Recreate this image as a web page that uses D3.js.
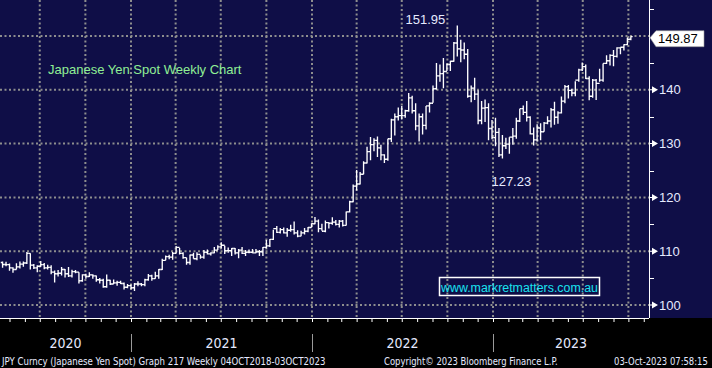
<!DOCTYPE html>
<html lang="en">

<head>
    <meta charset="UTF-8">
    <meta name="viewport" content="width=device-width, initial-scale=1.0">
    <title>Japanese Yen Spot Weekly Chart</title>
    <style>
        body { margin: 0; background: #000; }
        svg { display: block; }
        text { font-family: "Liberation Sans", Arial, sans-serif; }
        .narrow { font-family: "Liberation Sans Narrow", "DejaVu Sans Condensed", "Liberation Sans", sans-serif; font-stretch: condensed; }
    </style>
</head>

<body>
    <div id="workspace"></div>

    <script src="https://cdn.jsdelivr.net/npm/d3@7"></script>
    <script>
        // weekly bars, week ending Friday, first week ends 17 Apr 2020
        const firstWeek = "2020-04-17";
        const firstOpen = 107.9;
        const highs = [
            // 2020
            108.08, 108.05, 107.70, 107.00, 107.77, 108.09, 108.08, 109.85, 109.60, 107.60, 107.40, 108.16, 107.80,
            107.50, 107.40, 106.40, 106.50, 107.05, 106.70, 107.05, 106.55, 106.50, 106.10, 105.70, 105.80, 106.10,
            105.70, 105.50, 105.00, 104.90, 105.65, 104.70, 104.75, 104.50, 104.50, 104.20, 103.90,
            // 2021
            103.80, 104.10, 104.40, 104.10, 104.90, 105.76, 105.60, 106.20, 106.70, 108.60, 109.20, 109.36, 109.85,
            110.97, 110.60, 109.80, 108.80, 109.40, 109.70, 109.80, 109.30, 110.20, 110.33, 109.80, 110.80, 111.10,
            111.66, 111.00, 110.70, 110.60, 110.60, 110.40, 110.80, 110.20, 110.30, 110.40, 110.40, 110.20, 110.80,
            112.08, 112.25, 114.00, 114.70, 114.30, 114.40, 114.30, 114.90, 115.50, 113.90, 113.80, 114.30, 114.50,
            115.20,
            // 2022
            116.35, 115.90, 115.10, 115.70, 115.40, 116.30, 115.80, 115.80, 115.80, 117.40, 119.40, 122.40, 125.09,
            124.70, 126.70, 129.40, 131.25, 131.00, 131.30, 129.80, 128.00, 130.90, 134.60, 135.60, 136.70, 137.00,
            136.30, 139.40, 138.90, 137.50, 135.60, 135.60, 137.00, 137.70, 140.80, 144.99, 144.70, 145.90, 144.90,
            145.40, 148.90, 151.95, 149.30, 148.80, 147.60, 140.80, 142.25, 139.90, 137.90, 138.20, 137.50, 134.40,
            // 2023
            134.80, 132.90, 131.60, 131.10, 131.20, 132.90, 134.80, 136.50, 137.10, 137.90, 135.10, 133.00, 133.60,
            133.80, 134.00, 135.10, 136.60, 137.80, 136.00, 138.75, 140.90, 140.90, 140.20, 141.60, 143.90, 145.07,
            144.70, 142.50, 142.00, 142.00, 143.90, 144.90, 146.40, 146.60, 147.40, 147.90, 147.90, 148.45, 149.70,
            149.90
        ];
        const lows = [
            // 2020
            106.92, 107.20, 106.36, 106.00, 106.60, 106.80, 107.10, 107.60, 106.58, 106.70, 106.10, 107.10, 106.64,
            106.60, 105.70, 104.19, 105.30, 105.50, 105.10, 105.20, 105.10, 105.90, 104.00, 104.30, 104.90, 105.20,
            104.90, 104.30, 104.00, 103.20, 103.20, 103.70, 103.90, 103.60, 103.90, 102.88, 103.10,
            // 2021
            102.95, 102.59, 103.50, 103.50, 103.50, 104.50, 104.50, 104.90, 104.90, 106.50, 108.30, 108.50, 108.40,
            109.60, 109.40, 108.60, 107.50, 107.50, 108.60, 108.30, 108.60, 108.60, 109.40, 109.20, 109.60, 110.20,
            110.50, 109.50, 109.70, 109.10, 109.40, 108.70, 109.50, 109.10, 109.60, 109.60, 109.60, 109.10, 109.10,
            110.50, 110.80, 112.10, 113.40, 113.30, 113.30, 112.70, 113.60, 113.10, 112.60, 112.80, 113.10, 113.50,
            114.40,
            // 2022
            115.00, 113.50, 113.80, 113.50, 114.20, 114.90, 114.80, 114.40, 114.60, 114.80, 117.20, 119.10, 121.30,
            122.40, 124.30, 126.30, 126.90, 128.60, 127.50, 126.90, 126.40, 126.80, 130.30, 131.50, 134.30, 134.50,
            134.80, 135.90, 135.60, 132.50, 130.40, 131.70, 132.60, 135.80, 137.60, 140.00, 141.50, 140.30, 143.50,
            143.50, 145.20, 146.20, 145.10, 145.70, 138.50, 137.70, 138.10, 133.60, 133.60, 134.00, 130.60, 130.80,
            // 2023
            129.50, 127.50, 127.23, 129.00, 128.10, 129.80, 130.90, 134.00, 135.30, 134.10, 131.70, 129.64, 130.40,
            130.60, 132.20, 133.60, 133.00, 133.50, 133.70, 135.60, 137.50, 138.40, 138.80, 138.80, 141.50, 143.50,
            142.00, 138.07, 138.50, 138.10, 141.50, 141.50, 144.80, 144.50, 144.40, 146.00, 146.60, 147.30, 148.30,
            149.20
        ];
        const closes = [
            // 2020
            107.53, 107.50, 106.90, 106.60, 107.10, 107.60, 107.80, 109.60, 107.40, 106.90, 107.20, 107.50, 106.90,
            107.00, 106.10, 105.80, 105.90, 106.60, 105.80, 105.40, 106.20, 106.10, 104.50, 105.60, 105.30, 105.60,
            105.40, 104.70, 104.60, 103.40, 104.60, 103.90, 104.10, 104.20, 104.00, 103.30, 103.60,
            // 2021
            103.20, 103.90, 103.90, 103.80, 104.70, 105.40, 104.90, 105.40, 106.60, 108.30, 109.00, 108.90, 109.60,
            110.70, 109.60, 108.80, 107.90, 109.30, 108.60, 109.40, 108.90, 109.80, 109.50, 109.70, 110.20, 110.80,
            111.10, 110.10, 110.10, 110.50, 109.70, 110.20, 109.60, 109.80, 109.80, 109.70, 109.90, 109.90, 110.70,
            111.00, 112.20, 114.20, 113.50, 114.00, 113.40, 113.90, 114.00, 113.40, 112.80, 113.40, 113.70, 114.40,
            115.10,
            // 2022
            115.60, 114.20, 113.70, 115.30, 115.20, 115.40, 115.00, 115.60, 114.80, 117.30, 119.20, 122.10, 122.50,
            124.30, 126.40, 128.50, 129.80, 130.60, 129.20, 127.90, 127.10, 130.90, 134.40, 135.00, 135.20, 135.20,
            136.10, 138.50, 136.10, 133.30, 135.00, 133.40, 137.00, 137.50, 140.20, 142.60, 143.00, 143.40, 144.70,
            145.30, 148.70, 147.60, 147.40, 146.60, 138.80, 140.30, 139.20, 134.30, 136.60, 136.70, 132.80, 131.10,
            // 2023
            132.10, 127.90, 129.60, 129.90, 131.20, 131.40, 134.20, 136.50, 135.80, 134.90, 131.80, 130.70, 132.90,
            132.20, 133.80, 134.20, 136.30, 134.90, 135.70, 137.90, 140.60, 139.90, 139.40, 141.80, 143.70, 144.30,
            142.10, 138.80, 141.80, 141.20, 141.80, 144.90, 145.40, 146.40, 146.20, 147.80, 147.90, 148.40, 149.40,
            149.87
        ];
        const priceTicks = [100, 110, 120, 130, 140, 150];
        const minorTicks = [105, 115, 125, 135, 145, 155];
        const years = [2020, 2021, 2022, 2023];
        const peakLabel = "151.95";
        const troughLabel = "127.23";
        const lastLabel = "149.87";

        const width = 712, height = 368;
        const plotW = 649, plotH = 318;
        const navy = "#0f0e47";
        const grid = "#8e8e8e";
        const labelColor = "#e6eaff";

        const weeks = d3.timeFriday.range(d3.timeParse("%Y-%m-%d")(firstWeek), new Date(2024, 0, 1)).slice(0, closes.length);
        const bars = weeks.map((d, i) => ({
            date: d,
            open: i === 0 ? firstOpen : closes[i - 1],
            high: highs[i],
            low: lows[i],
            close: closes[i]
        }));

        // calibrated on the year boundaries, then widened to the plot
        const x = d3.scaleTime()
            .domain([new Date(2021, 0, 1), new Date(2023, 0, 1)])
            .range([131, 493]);
        x.domain([x.invert(0), x.invert(plotW)]).range([0, plotW]);
        const y = d3.scaleLinear().domain([100, 150]).range([305, 36]);

        const svg = d3.select("#workspace").append("svg")
            .attr("width", width)
            .attr("height", height);

        svg.append("rect").attr("width", width).attr("height", height).attr("fill", "#000");
        svg.append("rect").attr("width", width).attr("height", plotH).attr("fill", navy);

        // grid
        svg.append("g").selectAll("line")
            .data(priceTicks)
            .enter().append("line")
            .attr("x1", 0).attr("x2", plotW)
            .attr("y1", d => y(d)).attr("y2", d => y(d))
            .attr("stroke", grid).attr("stroke-width", 2).attr("stroke-dasharray", "2,2.5");
        svg.append("g").selectAll("line")
            .data(x.ticks(d3.timeMonth.every(3)))
            .enter().append("line")
            .attr("x1", d => x(d)).attr("x2", d => x(d))
            .attr("y1", 0).attr("y2", plotH)
            .attr("stroke", grid).attr("stroke-width", 2).attr("stroke-dasharray", "2,2.5");

        // OHLC bars
        const tick = 1.8;
        svg.append("g").selectAll("path")
            .data(bars)
            .enter().append("path")
            .attr("d", d => {
                const cx = x(d.date);
                return "M" + cx + "," + y(d.high) + "V" + y(d.low) +
                    "M" + (cx - tick) + "," + y(d.open) + "H" + cx +
                    "M" + cx + "," + y(d.close) + "H" + (cx + tick);
            })
            .attr("fill", "none")
            .attr("stroke", "#fff")
            .attr("stroke-width", 1.35);

        // right price axis
        svg.append("line")
            .attr("x1", plotW + 0.5).attr("x2", plotW + 0.5)
            .attr("y1", 0).attr("y2", plotH)
            .attr("stroke", "#fff");
        svg.append("g").selectAll("line")
            .data(minorTicks)
            .enter().append("line")
            .attr("x1", plotW).attr("x2", plotW + 5)
            .attr("y1", d => Math.round(y(d)) + 0.5).attr("y2", d => Math.round(y(d)) + 0.5)
            .attr("stroke", "#fff");
        const major = svg.append("g").selectAll("g")
            .data(priceTicks.filter(d => d < 150))
            .enter().append("g")
            .attr("transform", d => "translate(" + plotW + "," + y(d) + ")");
        major.append("path")
            .attr("d", "M0,-0.5H3L8,0L3,0.5H0Z M3,-3.5L9,0L3,3.5Z")
            .attr("fill", "#fff");
        major.append("text")
            .attr("x", 10)
            .attr("dy", "0.36em")
            .attr("font-size", 13)
            .attr("fill", labelColor)
            .text(d => d);

        // last price flag
        const last = bars[bars.length - 1];
        const ly = y(last.close) + 2;
        svg.append("path")
            .attr("d", "M" + (plotW + 1) + "," + (ly - 1) + "L" + (plotW + 7) + "," + (ly - 8) +
                "H704V" + (ly + 8) + "H" + (plotW + 7) + "Z")
            .attr("fill", "#fff")
            .attr("stroke", "#999")
            .attr("stroke-width", 0.6);
        svg.append("text")
            .attr("x", plotW + 9)
            .attr("y", ly)
            .attr("dy", "0.36em")
            .attr("font-size", 13)
            .attr("fill", "#000")
            .text(lastLabel);

        // time axis
        const xAxis = d3.axisBottom(x)
            .ticks(d3.timeMonth.every(1))
            .tickSize(4)
            .tickFormat("");
        const gx = svg.append("g")
            .attr("transform", "translate(0," + plotH + ")")
            .call(xAxis);
        gx.select(".domain").attr("stroke", "#fff").attr("d", "M0,0.5H" + plotW);
        gx.selectAll(".tick line").attr("stroke", "#fff");

        const yearStarts = years.map(yr => new Date(yr, 0, 1));
        svg.append("g").selectAll("line")
            .data(yearStarts.filter(d => x(d) > 0))
            .enter().append("line")
            .attr("x1", d => Math.round(x(d)) + 0.5).attr("x2", d => Math.round(x(d)) + 0.5)
            .attr("y1", 334).attr("y2", 352)
            .attr("stroke", "#9a9a9a");
        svg.append("g").selectAll("text")
            .data(years)
            .enter().append("text")
            .attr("class", "narrow")
            .attr("x", yr => (Math.max(0, x(new Date(yr, 0, 1))) + Math.min(plotW, x(new Date(yr + 1, 0, 1)))) / 2)
            .attr("y", 348)
            .attr("text-anchor", "middle")
            .attr("font-size", 14)
            .attr("fill", labelColor)
            .text(yr => yr);

        // annotations
        const peak = bars.reduce((a, b) => b.high > a.high ? b : a);
        const trough = bars.filter(d => d.date > peak.date).reduce((a, b) => b.low < a.low ? b : a);
        svg.append("text")
            .attr("x", x(peak.date) - 12)
            .attr("y", 24)
            .attr("text-anchor", "end")
            .attr("font-size", 13)
            .attr("fill", labelColor)
            .text(peakLabel);
        svg.append("text")
            .attr("x", x(trough.date) - 11)
            .attr("y", 186)
            .attr("font-size", 13)
            .attr("fill", labelColor)
            .text(troughLabel);

        svg.append("text")
            .attr("x", 48)
            .attr("y", 74)
            .attr("font-size", 13)
            .attr("fill", "#8fef95")
            .text("Japanese Yen Spot Weekly Chart");

        svg.append("rect")
            .attr("x", 439.5).attr("y", 277.5)
            .attr("width", 160).attr("height", 18)
            .attr("fill", "none")
            .attr("stroke", "#fff")
            .attr("stroke-width", 1.5);
        svg.append("text")
            .attr("x", 441)
            .attr("y", 292)
            .attr("font-size", 12.5)
            .attr("textLength", 157)
            .attr("lengthAdjust", "spacingAndGlyphs")
            .attr("fill", "#19e3f0")
            .text("www.markretmatters.com.au");

        // footer, squeezed horizontally to the reference widths
        const footer = [
            { x: 2, w: 324, t: "JPY Curncy (Japanese Yen Spot) Graph 217  Weekly 04OCT2018-03OCT2023" },
            { x: 384, w: 174, t: "Copyright\u00a9 2023 Bloomberg Finance L.P." },
            { x: 614, w: 94, t: "03-Oct-2023 07:58:15" }
        ];
        svg.append("g").selectAll("text")
            .data(footer)
            .enter().append("text")
            .attr("class", "narrow")
            .attr("font-size", 10.5)
            .attr("fill", labelColor)
            .text(d => d.t)
            .attr("transform", function (d) {
                const k = d.w / this.getComputedTextLength();
                return "translate(" + d.x + ",365) scale(" + k + ",1)";
            });
    </script>
</body>

</html>
